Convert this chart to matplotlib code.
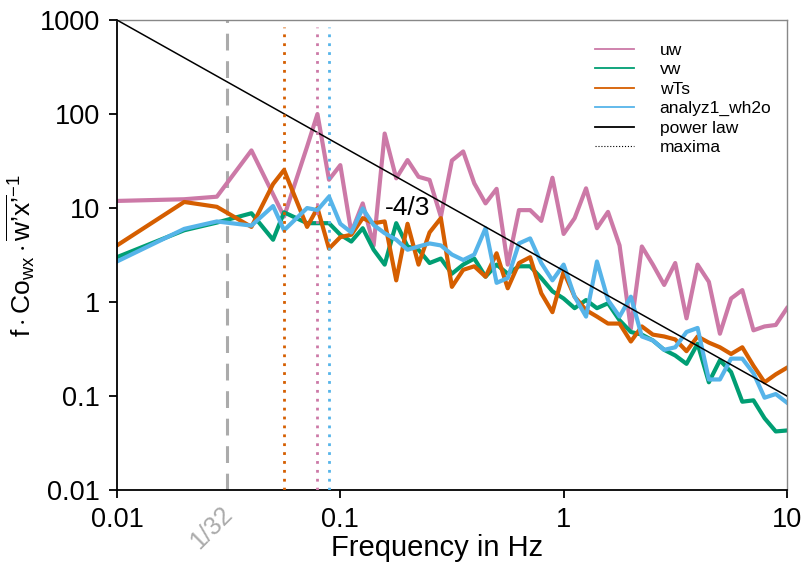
import numpy as np
import matplotlib.pyplot as plt
from matplotlib.lines import Line2D
import matplotlib.transforms as mtransforms

plt.rcParams['font.family'] = ['Liberation Sans', 'DejaVu Sans']
plt.rcParams['mathtext.fontset'] = 'custom'
plt.rcParams['mathtext.rm'] = 'Liberation Sans'
plt.rcParams['mathtext.it'] = 'Liberation Sans'

# frequency bins (Hz)
freq = [0.01, 0.02, 0.028, 0.04, 0.05, 0.056, 0.071, 0.079, 0.089,
        0.1, 0.112, 0.126, 0.141, 0.158, 0.178, 0.2, 0.224, 0.251, 0.282,
        0.316, 0.355, 0.398, 0.447, 0.501, 0.562, 0.631, 0.708, 0.794, 0.891,
        1.0, 1.12, 1.26, 1.41, 1.58, 1.78, 2.0, 2.24, 2.51, 2.82,
        3.16, 3.55, 3.98, 4.47, 5.01, 5.62, 6.31, 7.08, 7.94, 8.91, 10.0]

uw = [11.9, 12.4, 13.2, 41, 14, 8.1, 45, 100, 20,
      28.6, 5.5, 11.2, 4.0, 62, 20.7, 32.4, 21.5, 19.9, 8.1,
      32, 40, 18.3, 11.2, 16, 2.5, 9.5, 9.5, 7.3, 21,
      5.3, 7.8, 16.2, 6.1, 9.1, 4.0, 0.52, 3.9, 2.5, 1.52,
      2.6, 0.67, 2.5, 1.64, 0.46, 1.09, 1.34, 0.50, 0.55, 0.57, 0.86]

vw = [3.0, 5.8, 7.0, 8.8, 4.6, 9.0, 6.9, 6.9, 6.9,
      5.2, 4.4, 6.1, 3.6, 2.5, 6.9, 3.9, 3.6, 2.6, 2.9,
      2.0, 2.5, 2.9, 1.86, 2.5, 2.0, 2.4, 2.4, 1.8, 1.3,
      1.09, 0.86, 1.05, 0.86, 0.97, 0.64, 0.48, 0.45, 0.39, 0.31,
      0.27, 0.22, 0.36, 0.14, 0.24, 0.18, 0.087, 0.09, 0.058, 0.042, 0.043]

wTs = [4.0, 11.6, 10.3, 6.3, 18, 25.4, 6.3, 10, 3.7,
       4.9, 5.2, 7.8, 6.9, 7.2, 1.7, 6.8, 2.5, 5.5, 7.8,
       1.45, 2.2, 2.4, 1.86, 3.3, 1.4, 2.6, 3.0, 1.24, 0.78,
       2.1, 1.14, 0.82, 0.70, 0.59, 0.59, 0.38, 0.55, 0.45, 0.43,
       0.40, 0.30, 0.43, 0.37, 0.33, 0.28, 0.33, 0.21, 0.14, 0.17, 0.20]

wh2o = [2.7, 6.0, 7.2, 6.5, 10.5, 5.8, 10.0, 9.5, 13.2,
        6.8, 5.5, 9.9, 6.6, 5.4, 4.6, 3.6, 3.9, 4.2, 4.0,
        3.2, 2.8, 3.2, 6.1, 1.6, 1.8, 4.2, 4.75, 2.6, 1.7,
        2.5, 1.14, 0.70, 2.7, 1.05, 0.70, 1.14, 0.43, 0.39, 0.31,
        0.33, 0.48, 0.53, 0.15, 0.15, 0.25, 0.25, 0.175, 0.096, 0.105, 0.085]

series_names = ["uw", "vw", "wTs", "analyz1_wh2o"]
series_vals = [uw, vw, wTs, wh2o]
colors = ["#CC79A7", "#009E73", "#D55E00", "#56B4E9"]

# power law end points, slope -4/3
pl_f = [0.01, 10]
pl_y = [1000, 0.1]

fig = plt.figure(figsize=(8.04, 5.74), dpi=100)
ax = fig.add_axes([0.1455, 0.1463, 0.8333, 0.8188])
ax.set_xscale('log')
ax.set_yscale('log')
ax.set_xlim(0.01, 10)
ax.set_ylim(0.01, 1000)

ax.axvline(1 / 32, color='#ABABAB', lw=2.2, ls=(0, (5.5, 3.5)), zorder=1)

for vals, c in zip(series_vals, colors):
    ax.plot(freq, vals, color=c, lw=3, zorder=2)

ax.plot(pl_f, pl_y, color='black', lw=1.1, zorder=3)

# maxima (later series win where two peaks share a bin)
peaks = {}
for vals, c in zip(series_vals, colors):
    peaks[freq[int(np.argmax(vals))]] = c
for fmax, c in peaks.items():
    ax.axvline(fmax, ymax=0.985, color=c, lw=2, ls=(0, (1, 2.2)), zorder=4)

ax.text(0.2, 10, "-4/3", fontsize=19, ha='center', va='center')

trans = mtransforms.blended_transform_factory(ax.transData, ax.transAxes)
ax.text(0.0345, -0.025, "1/32", transform=trans, rotation=45, color='#ABABAB',
        fontsize=18, ha='right', va='top')

xt = [0.01, 0.1, 1, 10]
yt = [0.01, 0.1, 1, 10, 100, 1000]
ax.set_xticks(xt)
ax.set_xticklabels(["0.01", "0.1", "1", "10"])
ax.set_yticks(yt)
ax.set_yticklabels(["0.01", "0.1", "1", "10", "100", "1000"])
ax.minorticks_off()
ax.tick_params(axis='both', direction='out', length=6, width=1.3, labelsize=19.5, pad=6)

for s in ['top', 'right']:
    ax.spines[s].set_color('#888888')
    ax.spines[s].set_linewidth(1)
for s in ['left', 'bottom']:
    ax.spines[s].set_linewidth(1.3)

ax.set_xlabel("Frequency in Hz", fontsize=21)
ax.xaxis.set_label_coords(0.478, -0.093)
ax.set_ylabel("$\\mathrm{f \\cdot Co_{wx} \\cdot \\overline{w\u2019x\u2019}^{-1}}$",
              fontsize=19, labelpad=2)

handles = [Line2D([], [], color=c, lw=1.3) for c in colors]
handles.append(Line2D([], [], color='black', lw=1.3))
handles.append(Line2D([], [], color='black', lw=0.8, ls=':'))
ax.legend(handles, series_names + ["power law", "maxima"], loc='upper right',
          frameon=False, fontsize=12.5, handlelength=2.2, handletextpad=1.5,
          labelspacing=0.25, bbox_to_anchor=(1.0, 0.985))

fig.savefig("out.png", dpi=100)
